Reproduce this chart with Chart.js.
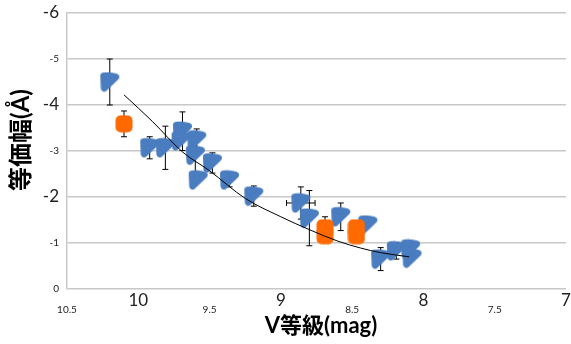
<!DOCTYPE html>
<html><head><meta charset="utf-8">
<script src="https://cdn.jsdelivr.net/npm/chart.js@4/dist/chart.umd.min.js"></script>
<style>html,body{margin:0;padding:0;background:#fff}#wrap{width:571px;height:344px;position:relative}</style>
</head><body><div id="wrap"><canvas id="c" width="571" height="344"></canvas></div>
<script>
// ---- data ----
const xTickValues = [10.5, 10, 9.5, 9, 8.5, 8, 7.5, 7];
const yTickValues = [-6, -5, -4, -3, -2, -1, 0];
const bigTicks = [10, 9, 8, 7, -6, -4, -2];

const blueX   = [10.20, 9.92, 9.81, 9.69, 9.70, 9.59, 9.60, 9.58, 9.48, 9.36, 9.19, 8.86, 8.80, 8.58, 8.39, 8.30, 8.19, 8.09, 8.08];
const blueY   = [-4.50, -3.07, -3.07, -3.43, -3.22, -3.24, -2.91, -2.37, -2.74, -2.37, -2.02, -1.87, -1.54, -1.57, -1.39, -0.65, -0.83, -0.87, -0.67];
const blueErr = [0.50, 0.24, 0.47, 0.42, 0, 0.24, 0.45, 0, 0.22, 0.15, 0.22, 0.35, 0.60, 0.30, 0, 0.25, 0.18, 0, 0];
const blueXErr = [0, 0, 0, 0, 0, 0, 0, 0, 0, 0, 0, 0.10, 0, 0, 0, 0, 0, 0, 0];

const orangeX   = [10.10, 8.69, 8.69, 8.47, 8.47];
const orangeY   = [-3.59, -1.33, -1.16, -1.33, -1.16];
const orangeErr = [0.28, 0.24, 0, 0.10, 0];

const trendX = [10.10, 9.90, 9.69, 9.50, 9.25, 9.00, 8.80, 8.60, 8.44, 8.30, 8.10];
const trendY = [-4.22, -3.64, -2.98, -2.57, -1.97, -1.57, -1.29, -1.04, -0.89, -0.79, -0.70];

const xTitle = 'V等級(mag)';
const yTitle = '等価幅(Å)';

// ---- marker images ----
const BLUE = '#4a7cc0', ORANGE = '#ff6a00';
function blueMarker(){
  const c = document.createElement('canvas'); c.width = 21; c.height = 21;
  const g = c.getContext('2d');
  g.fillStyle = g.strokeStyle = BLUE; g.lineJoin = 'round'; g.lineWidth = 7;
  g.beginPath(); g.moveTo(4.5,4.5); g.quadraticCurveTo(10.5,3.5, 16.5,5.5); g.lineTo(5,16.5); g.closePath();
  g.fill(); g.stroke();
  return c;
}
function orangeMarker(){
  const c = document.createElement('canvas'); c.width = 18; c.height = 18;
  const g = c.getContext('2d');
  g.fillStyle = ORANGE; g.beginPath(); g.roundRect(0.5,0.5,17,17,5); g.fill();
  return c;
}

const pts = (xs, ys) => xs.map((v, i) => ({x: v, y: ys[i]}));

const errPlugin = {
  id: 'errbars',
  beforeDatasetsDraw(chart){
    const {ctx, scales:{x, y}} = chart;
    ctx.save(); ctx.strokeStyle = '#000'; ctx.lineWidth = 1;
    const draw = (xs, ys, es, xes) => {
      xs.forEach((v, i) => {
        const px = x.getPixelForValue(v), py = y.getPixelForValue(ys[i]);
        if (es[i] > 0){
          const a = y.getPixelForValue(ys[i] - es[i]), b = y.getPixelForValue(ys[i] + es[i]);
          ctx.beginPath();
          ctx.moveTo(px, a); ctx.lineTo(px, b);
          ctx.moveTo(px-3, a); ctx.lineTo(px+3, a);
          ctx.moveTo(px-3, b); ctx.lineTo(px+3, b);
          ctx.stroke();
        }
        if (xes && xes[i] > 0){
          const l = x.getPixelForValue(v + xes[i]), r = x.getPixelForValue(v - xes[i]);
          ctx.beginPath();
          ctx.moveTo(l, py); ctx.lineTo(r, py);
          ctx.moveTo(l, py-3); ctx.lineTo(l, py+3);
          ctx.moveTo(r, py-3); ctx.lineTo(r, py+3);
          ctx.stroke();
        }
      });
    };
    draw(blueX, blueY, blueErr, blueXErr);
    draw(orangeX, orangeY, orangeErr, null);
    ctx.restore();
  }
};

const titlePlugin = {
  id: 'titles',
  afterDraw(chart){
    const {ctx} = chart;
    ctx.save();
    ctx.fillStyle = '#000';
    ctx.textAlign = 'center'; ctx.textBaseline = 'middle';
    ctx.font = 'bold 22px Lato, "Noto Sans CJK JP", sans-serif';
    ctx.fillText(xTitle, 321, 326);
    ctx.translate(21, 140); ctx.rotate(-Math.PI/2);
    ctx.font = 'bold 24px Lato, "Noto Sans CJK JP", sans-serif';
    ctx.fillText(yTitle, 0, 0);
    ctx.restore();
  }
};

const tickFont = (ctx) => bigTicks.includes(ctx.tick && ctx.tick.value)
  ? {family: 'Lato, "Noto Sans", sans-serif', size: 17}
  : {family: 'Lato, "Noto Sans", sans-serif', size: 10};

new Chart(document.getElementById('c'), {
  type: 'scatter',
  data: {
    datasets: [
      {label: 'trend', data: pts(trendX, trendY), showLine: true, borderColor: '#000', borderWidth: 1,
       pointRadius: 0, tension: 0.4, cubicInterpolationMode: 'monotone', order: 0},
      {label: 'orange', data: pts(orangeX, orangeY), pointStyle: orangeMarker(), order: 1},
      {label: 'blue', data: pts(blueX, blueY), pointStyle: blueMarker(), order: 2}
    ]
  },
  options: {
    responsive: false, animation: false,
    layout: {padding: {top: 13, right: 2, left: 0, bottom: 0}},
    plugins: {legend: {display: false}, tooltip: {enabled: false}},
    scales: {
      x: {
        type: 'linear', reverse: true, min: 7, max: 10.5,
        afterBuildTicks: (s) => { s.ticks = xTickValues.map(v => ({value: v})); },
        afterFit: (s) => { s.height = 55; s.paddingLeft = 0; s.paddingRight = 0; },
        grid: {display: false}, border: {display: false},
        ticks: {font: tickFont, color: '#222', padding: 4, crossAlign: 'far', maxRotation: 0, autoSkip: false,
                callback: (v) => String(v)}
      },
      y: {
        type: 'linear', reverse: true, min: -6, max: 0,
        afterBuildTicks: (s) => { s.ticks = yTickValues.map(v => ({value: v})); },
        afterFit: (s) => { s.width = 67; s.paddingTop = 0; s.paddingBottom = 0; },
        grid: {color: '#c8c8c8', lineWidth: 1.5, drawTicks: false},
        border: {display: true, color: '#c8c8c8', width: 1.5},
        ticks: {font: tickFont, color: '#222', padding: 8, autoSkip: false, callback: (v) => String(v)}
      }
    }
  },
  plugins: [errPlugin, titlePlugin]
});
</script>
</body></html>
